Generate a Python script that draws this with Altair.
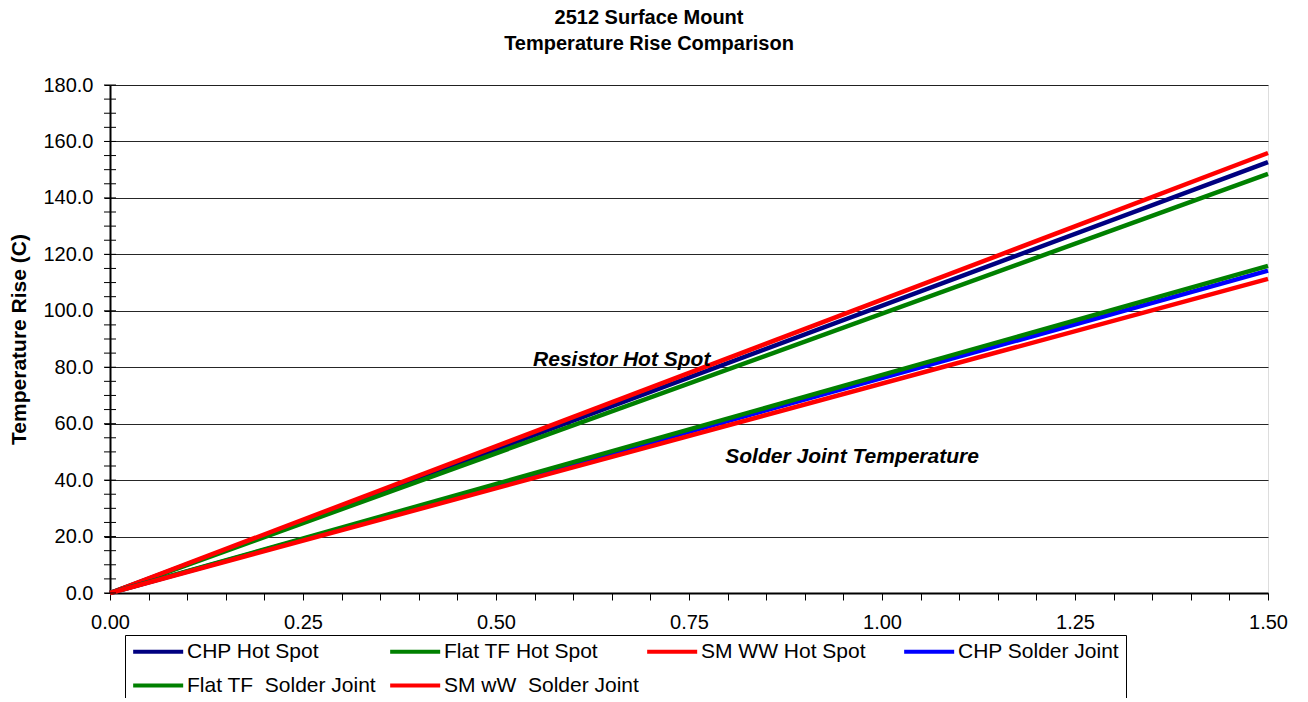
import altair as alt
import pandas as pd

FONT = "Liberation Sans"

# Series (legend order) and values
series = ["CHP Hot Spot", "Flat TF Hot Spot", "SM WW Hot Spot",
          "CHP Solder Joint", "Flat TF\u00a0 Solder Joint", "SM wW\u00a0 Solder Joint"]
colors = ["#000080", "#008000", "#FF0000", "#0000FF", "#008000", "#FF0000"]
x_points = [0.0, 1.5]
y_chp_hot = [0.0, 152.7]
y_flat_hot = [0.0, 148.5]
y_smww_hot = [0.0, 155.9]
y_chp_sj = [0.0, 114.2]
y_flat_sj = [0.0, 115.9]
y_smww_sj = [0.0, 111.3]

y_major = [0, 20, 40, 60, 80, 100, 120, 140, 160, 180]
y_minor = [0, 5, 10, 15, 20, 25, 30, 35, 40, 45, 50, 55, 60, 65, 70, 75, 80, 85, 90,
           95, 100, 105, 110, 115, 120, 125, 130, 135, 140, 145, 150, 155, 160, 165,
           170, 175, 180]
x_ticks = [0.0, 0.05, 0.1, 0.15, 0.2, 0.25, 0.3, 0.35, 0.4, 0.45, 0.5, 0.55, 0.6,
           0.65, 0.7, 0.75, 0.8, 0.85, 0.9, 0.95, 1.0, 1.05, 1.1, 1.15, 1.2, 1.25,
           1.3, 1.35, 1.4, 1.45, 1.5]

ann_text = ["Resistor Hot Spot", "Solder Joint Temperature"]
ann_x = [0.548, 0.797]
ann_y = [80.4, 46.1]

rows = []
for name, ys in zip(series, [y_chp_hot, y_flat_hot, y_smww_hot, y_chp_sj, y_flat_sj, y_smww_sj]):
    for xv, yv in zip(x_points, ys):
        rows.append({"series": name, "current": xv, "rise": yv})
df = pd.DataFrame(rows)
ticks_df = pd.DataFrame({"current": [0.0] * len(y_minor), "rise": y_minor})
ann_df = pd.DataFrame({"text": ann_text, "current": ann_x, "rise": ann_y})

xscale = alt.Scale(domain=[0, 1.5], nice=False, zero=False)
yscale = alt.Scale(domain=[0, 180], nice=False)

xaxis = alt.Axis(
    title=None, values=x_ticks, grid=False,
    labelExpr="abs(datum.value*4 - round(datum.value*4)) < 0.001 ? format(datum.value, '.2f') : ''",
    labelOverlap=False, labelFlush=False, tickSize=7, tickColor="black", tickWidth=1,
    domainColor="black", domainWidth=2, labelFontSize=20, labelColor="black",
    labelPadding=12, labelFont=FONT)
yaxis = alt.Axis(
    title="Temperature Rise (C)", values=y_major, format=".1f", grid=True,
    gridColor="black", gridWidth=1, gridOpacity=0.85, tickSize=6, tickColor="black",
    domainColor="black", domainWidth=2, labelFontSize=20, labelColor="black",
    labelPadding=11, labelFlush=False, labelOverlap=False, labelFont=FONT,
    titleFontSize=21, titleFontWeight="bold", titleFont=FONT, titleColor="black",
    titleAngle=-90, titleX=-91, titleY=254, titleBaseline="middle", titleAlign="center")

lines = alt.Chart(df).mark_line(strokeWidth=4.5).encode(
    x=alt.X("current:Q", scale=xscale, axis=xaxis),
    y=alt.Y("rise:Q", scale=yscale, axis=yaxis),
    color=alt.Color("series:N", sort=series,
                    scale=alt.Scale(domain=series, range=colors),
                    legend=alt.Legend(
                        title=None, orient="none", legendX=15, legendY=550,
                        direction="horizontal", columns=4, gridAlign="all",
                        padding=6, strokeColor="black", fillColor="white",
                        labelFontSize=21, labelFont=FONT, labelColor="black",
                        labelLimit=400, labelOffset=35, symbolType="M-1,0H5",
                        symbolSize=278, symbolStrokeWidth=4, columnPadding=0,
                        rowPadding=12)),
    order=alt.Order("current:Q"),
    detail="series:N",
)

crossticks = alt.Chart(ticks_df).mark_tick(orient="horizontal", size=12, thickness=1,
                                           color="black", opacity=1).encode(
    x=alt.X("current:Q", scale=xscale, axis=xaxis),
    y=alt.Y("rise:Q", scale=yscale, axis=yaxis),
)

ann = alt.Chart(ann_df).mark_text(font=FONT, fontSize=21, fontWeight="bold",
                                  fontStyle="italic", align="left",
                                  baseline="alphabetic", color="black").encode(
    x=alt.X("current:Q", scale=xscale, axis=xaxis),
    y=alt.Y("rise:Q", scale=yscale, axis=yaxis),
    text="text:N",
)

chart = alt.layer(lines, crossticks, ann).properties(
    width=1158, height=508,
    title=alt.TitleParams(["2512 Surface Mount", "Temperature Rise Comparison"],
                          fontSize=20, font=FONT, fontWeight="bold", color="black",
                          anchor="middle", dx=-40, offset=21, lineHeight=26),
    autosize=alt.AutoSizeParams(type="none"),
    padding={"left": 102, "top": 77, "right": 30, "bottom": 105},
).configure_view(stroke="black", strokeWidth=2).configure(background="white", font=FONT)

chart.save("out.html", embed_options={"renderer": "svg", "actions": False})
